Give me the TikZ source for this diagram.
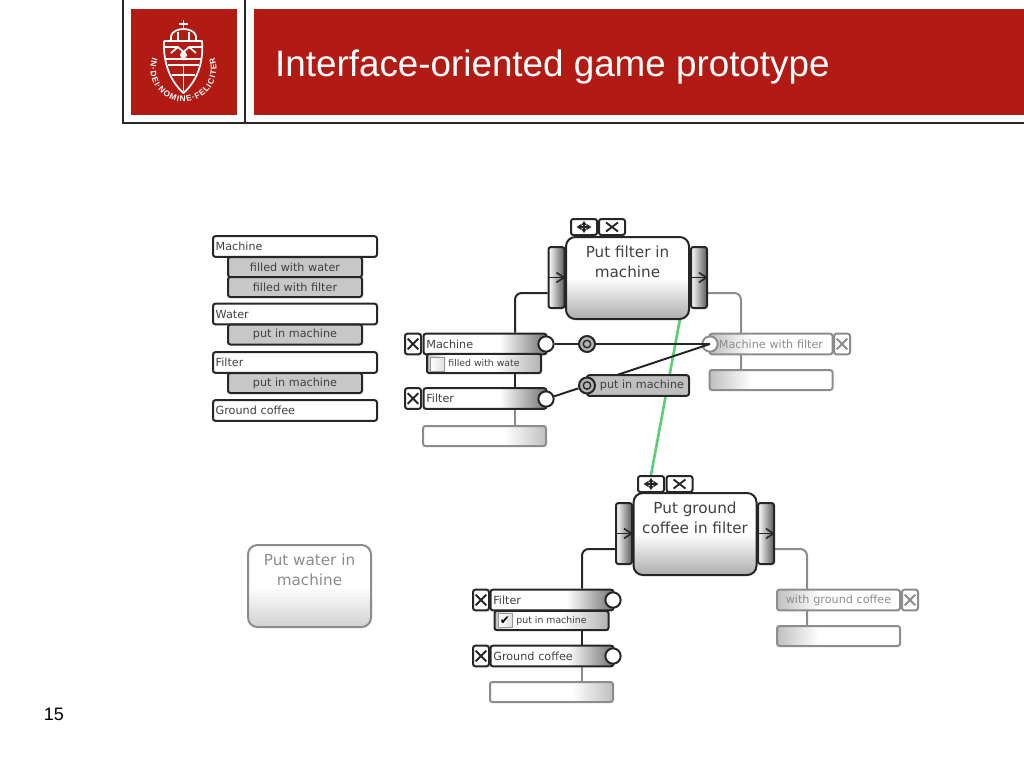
\documentclass[tikz,border=0pt]{standalone}
\usepackage{fontspec}
\setmainfont{DejaVu Sans}
\newfontfamily\slidefont{Liberation Sans}
\usetikzlibrary{positioning,arrows.meta,backgrounds,decorations.text}
\definecolor{ruRed}{HTML}{B21A14}
\definecolor{wireGreen}{HTML}{5CCF74}
\pgfdeclarehorizontalshading{fadeRight}{100bp}{color(0bp)=(white); color(25bp)=(white);
  color(56bp)=(white); color(75bp)=(black!55); color(100bp)=(black!55)}
\pgfdeclarehorizontalshading{slotRight}{100bp}{color(0bp)=(white); color(25bp)=(white);
  color(58bp)=(white); color(75bp)=(black!25); color(100bp)=(black!25)}
\pgfdeclarehorizontalshading{fadeLeft}{100bp}{color(0bp)=(black!25); color(25bp)=(black!25);
  color(42bp)=(white); color(75bp)=(white); color(100bp)=(white)}
\pgfdeclarehorizontalshading{subShade}{100bp}{color(0bp)=(black!25); color(25bp)=(black!25);
  color(34bp)=(white); color(54bp)=(white); color(75bp)=(black!30); color(100bp)=(black!30)}

\begin{document}
\begin{tikzpicture}[
      x=0.75pt,y=-0.75pt,
      >={Straight Barb[length=2mm,width=2.6mm]},
      tile/.style={draw=black!85,line width=1.5pt,rounded corners=1.8pt,inner sep=2pt,
        text=black!75,font=\fontsize{8.4}{10}\selectfont},
      pale/.style={draw=black!45,text=black!45},
      bar/.style={tile,minimum width=92.25pt,minimum height=15.5pt,text width=88pt,align=left},
      objbar/.style={bar,shading=fadeRight},
      slotbar/.style={bar,draw=black!45,shading=slotRight,minimum height=15pt},
      outbar/.style={bar,pale,shading=fadeLeft,align=center},
      outslot/.style={bar,pale,shading=fadeLeft,minimum height=15pt},
      namebar/.style={tile,fill=white,minimum width=123pt,minimum height=15.5pt,text width=119pt,align=left},
      propbar/.style={tile,fill=black!22,minimum width=100.5pt,minimum height=15pt,align=center},
      subbar/.style={tile,shading=subShade,minimum width=85.5pt,minimum height=14.5pt,inner sep=0pt,
        font=\fontsize{7}{8}\selectfont,align=center},
      actbox/.style={tile,top color=white,bottom color=black!32,middle color=white,
        rounded corners=7pt,minimum width=92.25pt,minimum height=61.5pt,align=center,
        font=\fontsize{11.4}{14.6}\selectfont},
      handle/.style={tile,left color=white,right color=black!65,minimum width=12pt,minimum height=45.75pt,inner sep=0pt},
      port/.style={circle,draw=black!85,fill=white,line width=1.5pt,minimum size=11.5pt,inner sep=0pt},
      ring/.style={circle,draw=black!85,fill=black!30,line width=1.5pt,minimum size=12pt,inner sep=0pt,
        path picture={\draw[black!85,line width=1pt] (path picture bounding box.center) circle (2.8pt);}},
      crossmark/.style 2 args={path picture={\draw[line width=1.4pt]
            ([shift={(-#1,-#2)}]path picture bounding box.center) -- ([shift={(#1,#2)}]path picture bounding box.center)
            ([shift={(-#1,#2)}]path picture bounding box.center) -- ([shift={(#1,-#2)}]path picture bounding box.center);}},
      xbtn/.style={tile,fill=white,minimum width=12pt,minimum height=15.5pt,inner sep=0pt,crossmark={4pt}{4pt}},
      topx/.style={tile,fill=white,minimum width=19.5pt,minimum height=12pt,inner sep=0pt,crossmark={4.5pt}{3.4pt}},
      movebtn/.style={tile,fill=white,minimum width=19.5pt,minimum height=12pt,inner sep=0pt,
        path picture={\draw[{Stealth[length=1.3mm,width=1.7mm]}-{Stealth[length=1.3mm,width=1.7mm]},line width=1pt]
            ([xshift=-5.5pt]path picture bounding box.center) -- ([xshift=5.5pt]path picture bounding box.center);
          \draw[{Stealth[length=1.3mm,width=1.7mm]}-{Stealth[length=1.3mm,width=1.7mm]},line width=1pt]
            ([yshift=-4.5pt]path picture bounding box.center) -- ([yshift=4.5pt]path picture bounding box.center);}},
      checkbox/.style={draw=black!40,left color=white,right color=black!12,minimum size=10.5pt,inner sep=0pt,
        font=\fontsize{9}{9}\selectfont},
      wire/.style={draw=black!85,line width=1.5pt,rounded corners=5pt},
      palewire/.style={wire,draw=black!45},
      seal/.style={draw=white,line width=1.3pt,line join=round},
      title/.style={text=white,font=\slidefont\fontsize{27.6}{30}\selectfont,anchor=west}
    ]
    \useasboundingbox (0,0) rectangle (1024,768);
    % header: frame, seal and title
    \draw[black!85,line width=1pt] (123,0) -- (123,123) -- (1024,123) (245,0) -- (245,123);
    \fill[ruRed] (131,9) rectangle (237,115);
    \fill[ruRed] (254,9) rectangle (1024,115);
    \draw[seal] (164,41) -- (202,41) .. controls (204,64) and (196,82) .. (183.5,93)
      .. controls (171,82) and (163,64) .. (164,41);
    \draw[seal] (171,40) -- (171,36) .. controls (172,31) and (179,29) .. (183.5,29)
      .. controls (188,29) and (195,31) .. (196,36) -- (196,40) (178,40) -- (178,32) (189,40) -- (189,32);
    \draw[seal] (183.5,20) -- (183.5,29) (179,24) -- (188,24);
    \draw[seal] (165,47) -- (178,47) (189,47) -- (202,47) (166,59) -- (201,59) (168,65) -- (199,65);
    \draw[seal] (171,53) -- (178,47) -- (183.5,52) -- (189,47) -- (196,53);
    \fill[white] (183.5,55) circle (2.6pt);
    \draw[seal] (183.5,65) -- (183.5,91) (172,75) -- (195,75);
    \path[decorate,decoration={text along path,text align={fit to path},
        text={|\color{white}\slidefont\bfseries\fontsize{6.2}{7}\selectfont|IN·DEI·NOMINE·FELICITER}}]
      (152.5,57.7) arc[start angle=160,end angle=380,radius=24.75pt];
    \node[title] (slideTitle) at (270.5,67) {Interface-oriented game prototype};
    \node[font=\slidefont\fontsize{13.5}{15}\selectfont] (pageNo) at (54,714) {15};
    % palette of objects and their properties
    \node[namebar] (palMachine) at (295,246.5) {Machine};
    \node[propbar] (palWater) at (295,267) {filled with water};
    \node[propbar] (palFilterProp) at (295,287) {filled with filter};
    \node[namebar] (palWaterObj) at (295,314) {Water};
    \node[propbar] (palWaterIn) at (295,334.5) {put in machine};
    \node[namebar] (palFilter) at (295,362.5) {Filter};
    \node[propbar] (palFilterIn) at (295,383) {put in machine};
    \node[namebar] (palCoffee) at (295,410.5) {Ground coffee};
    % first action
    \node[actbox] (fltAct) at (627.5,278) {Put filter in\\machine\\[10pt]\mbox{}};
    \node[handle] (fltIn) at (556.5,277.5) {};
    \node[handle] (fltOut) at (699,277.5) {};
    \node[movebtn] (fltMove) at (584,227) {};
    \node[topx] (fltClose) at (612,227) {};
    \node[objbar] (fltMachine) at (485,344) {Machine};
    \node[xbtn] (fltMachineX) at (413,344) {};
    \node[port] (fltMachinePort) at (546,344) {};
    \node[subbar] (fltWaterSub) at (484,363.5) {filled with wate};
    \node[checkbox] (fltWaterChk) at (437,364) {};
    \node[objbar] (fltFilter) at (485,398.5) {Filter};
    \node[xbtn] (fltFilterX) at (413,398.5) {};
    \node[port] (fltFilterPort) at (546,399) {};
    \node[slotbar] (fltSlot) at (484.5,436) {};
    \node[ring] (fltRingA) at (587,344) {};
    \node[tile,fill=black!25,minimum width=76.5pt,minimum height=15.5pt,align=center] (fltProp) at (638,385.5)
      {\hspace*{6pt}put in machine};
    \node[ring] (fltRingB) at (587,385.5) {};
    \node[outbar] (fltResult) at (771,344) {Machine with filter};
    \node[xbtn,pale] (fltResultX) at (842,344) {};
    \node[port,draw=black!45] (fltResultPort) at (710,344) {};
    \node[outslot] (fltResultSlot) at (771,380) {};
    % second action
    \node[actbox] (cofAct) at (695,534) {Put ground\\coffee in filter\\[10pt]\mbox{}};
    \node[handle] (cofIn) at (624,533.5) {};
    \node[handle] (cofOut) at (766,533.5) {};
    \node[movebtn] (cofMove) at (651,484) {};
    \node[topx] (cofClose) at (679.5,484) {};
    \node[objbar] (cofFilter) at (552,600) {Filter};
    \node[xbtn] (cofFilterX) at (481,600) {};
    \node[port] (cofFilterPort) at (613,600) {};
    \node[subbar] (cofMachineSub) at (551.5,620.5) {put in machine};
    \node[checkbox] (cofMachineChk) at (505,620.5) {✔};
    \node[objbar] (cofCoffee) at (552,656) {Ground coffee};
    \node[xbtn] (cofCoffeeX) at (481,656) {};
    \node[port] (cofCoffeePort) at (613,656) {};
    \node[slotbar] (cofSlot) at (551.5,692) {};
    \node[outbar] (cofResult) at (838.5,600) {with ground coffee};
    \node[xbtn,pale] (cofResultX) at (910,600) {};
    \node[outslot] (cofResultSlot) at (838.5,636) {};
    % action not yet placed
    \node[actbox,pale,bottom color=black!18,middle color=white] (watAct) at (309.5,586) {Put water in\\machine\\[10pt]\mbox{}};
    % wires go under the boxes
    \coordinate (fltBendL) at (515,293);
    \coordinate (fltBendR) at (741,293);
    \coordinate (cofBendL) at (582,549);
    \coordinate (cofBendR) at (807,549);
    \coordinate (fltGreenEnd) at (680,319);
    \begin{scope}[on background layer]
      \draw[wire] (fltIn.west |- fltBendL) -- (fltBendL) -- (fltBendL |- fltMachine.north);
      \draw[wire] (fltBendL |- fltMachine.south) -- (fltBendL |- fltFilter.north);
      \draw[palewire] (fltBendL |- fltFilter.south) -- (fltBendL |- fltSlot.north);
      \draw[palewire] (fltOut.east |- fltBendR) -- (fltBendR) -- (fltBendR |- fltResultSlot.north);
      \draw[wire] (cofIn.west |- cofBendL) -- (cofBendL) -- (cofBendL |- cofFilter.north);
      \draw[wire] (cofBendL |- cofFilter.south) -- (cofBendL |- cofCoffee.north);
      \draw[palewire] (cofBendL |- cofCoffee.south) -- (cofBendL |- cofSlot.north);
      \draw[palewire] (cofOut.east |- cofBendR) -- (cofBendR) -- (cofBendR |- cofResultSlot.north);
      \draw[wireGreen,line width=2pt] (fltGreenEnd) -- (cofMove.north);
      \draw[wire] (fltMachinePort) -- (fltRingA);
      \draw[wire] (fltFilterPort) -- (fltRingB);
    \end{scope}
    % arrows in the handles and the links on top
    \draw[black!85,line width=1.2pt,->] (fltIn.west) -- (fltIn.east);
    \draw[black!85,line width=1.2pt,->] (fltOut.west) -- (fltOut.east);
    \draw[black!85,line width=1.2pt,->] (cofIn.west) -- (cofIn.east);
    \draw[black!85,line width=1.2pt,->] (cofOut.west) -- (cofOut.east);
    \coordinate (fltPropTap) at (617,375);
    \draw[wire] (fltRingA) -- (fltResultPort.center);
    \draw[wire] (fltPropTap) -- (fltResultPort.center);
\end{tikzpicture}
\end{document}
